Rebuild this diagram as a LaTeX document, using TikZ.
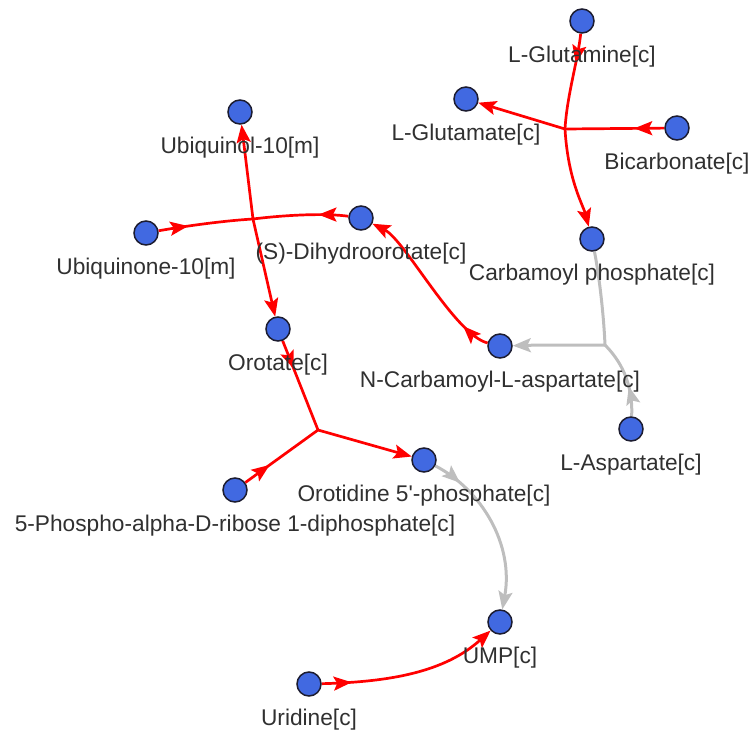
\documentclass[tikz,border=0pt]{standalone}
\usepackage{fontspec}
\setmainfont{Liberation Sans}
\usetikzlibrary{arrows.meta,decorations.markings}
\definecolor{metblue}{RGB}{65,105,225}
\definecolor{metrim}{RGB}{28,28,48}
\definecolor{fluxred}{RGB}{255,0,0}
\definecolor{idlegray}{RGB}{190,190,190}
\definecolor{txtgray}{RGB}{48,48,48}
\pgfdeclarelayer{edges}
\pgfsetlayers{edges,main}

\begin{document}
\begin{tikzpicture}[x=1pt,y=-1pt,>={Stealth[length=18pt,width=14pt,inset=3.5pt]}]
    \tikzstyle{met}=[circle,draw=metrim,fill=metblue,line width=1.5pt,minimum size=24pt,inner sep=0pt]
    \tikzstyle{lbl}=[anchor=base,inner sep=0pt,text=txtgray,font=\fontsize{22.7}{27}\selectfont]
    \tikzstyle{flux}=[draw=fluxred,line width=2.7pt]
    \tikzstyle{idle}=[draw=idlegray,line width=3pt]
    \tikzstyle{sub}=[postaction={decorate,decoration={markings,mark=at position 30pt with {\arrow{>}}}}]
    \useasboundingbox (0,0) rectangle (753,731);
    % metabolites
    \node [met] (gln) at (582,21) {};
    \node [met] (glu) at (466,99) {};
    \node [met] (hco3) at (677,128) {};
    \node [met] (cbp) at (592,239) {};
    \node [met] (q10h2) at (240,112) {};
    \node [met] (q10) at (146,233) {};
    \node [met] (dhor) at (361,218) {};
    \node [met] (orot) at (278,329) {};
    \node [met] (cbasp) at (500,346) {};
    \node [met] (asp) at (631,429) {};
    \node [met] (omp) at (424,460) {};
    \node [met] (prpp) at (235,490) {};
    \node [met] (ump) at (500,622) {};
    \node [met] (uri) at (309,684) {};
    \node [lbl] (glnL) at ([yshift=-41pt]gln.center) {L-Glutamine[c]};
    \node [lbl] (gluL) at ([yshift=-41pt]glu.center) {L-Glutamate[c]};
    \node [lbl] (hco3L) at ([yshift=-41pt]hco3.center) {Bicarbonate[c]};
    \node [lbl] (cbpL) at ([yshift=-41pt]cbp.center) {Carbamoyl phosphate[c]};
    \node [lbl] (q10h2L) at ([yshift=-41pt]q10h2.center) {Ubiquinol-10[m]};
    \node [lbl] (q10L) at ([yshift=-41pt]q10.center) {Ubiquinone-10[m]};
    \node [lbl] (dhorL) at ([yshift=-41pt]dhor.center) {(S)-Dihydroorotate[c]};
    \node [lbl] (orotL) at ([yshift=-41pt]orot.center) {Orotate[c]};
    \node [lbl] (cbaspL) at ([yshift=-41pt]cbasp.center) {N-Carbamoyl-L-aspartate[c]};
    \node [lbl] (aspL) at ([yshift=-41pt]asp.center) {L-Aspartate[c]};
    \node [lbl] (ompL) at ([yshift=-41pt]omp.center) {Orotidine 5\textquotesingle-phosphate[c]};
    \node [lbl] (prppL) at ([yshift=-41pt]prpp.center) {5-Phospho-alpha-D-ribose 1-diphosphate[c]};
    \node [lbl] (umpL) at ([yshift=-41pt]ump.center) {UMP[c]};
    \node [lbl] (uriL) at ([yshift=-41pt]uri.center) {Uridine[c]};
    % reaction midpoints
    \coordinate (cpsJ) at (565,129);
    \coordinate (dhodJ) at (253,219);
    \coordinate (atcJ) at (605,345);
    \coordinate (oprtJ) at (318,430);
    \begin{pgfonlayer}{edges}
      % carbamoyl phosphate synthase
      \draw [flux,sub] (gln) .. controls (578,60) and (567,95) .. (cpsJ);
      \draw [flux,sub] (hco3) -- (cpsJ);
      \draw [flux,->] (cpsJ) -- (glu);
      \draw [flux,->] (cpsJ) .. controls (568,180) and (583,205) .. (cbp);
      % dihydroorotate dehydrogenase
      \draw [flux,sub] (q10) .. controls (180,227) and (220,221) .. (dhodJ);
      \draw [flux,sub] (dhor) .. controls (325,213) and (285,215) .. (dhodJ);
      \draw [flux,->] (dhodJ) -- (q10h2);
      \draw [flux,->] (dhodJ) -- (orot);
      % aspartate transcarbamoylase
      \draw [idle] (cbp) .. controls (600,280) and (604,320) .. (atcJ);
      \draw [idle,sub] (asp) .. controls (633,390) and (625,365) .. (atcJ);
      \draw [idle,->] (atcJ) .. controls (570,345) and (540,345) .. (cbasp);
      % dihydroorotase
      \draw [flux,sub,->] (cbasp) .. controls (455,335) and (405,240) .. (dhor);
      % orotate phosphoribosyltransferase
      \draw [flux,sub] (orot) -- (oprtJ);
      \draw [flux,sub] (prpp) -- (oprtJ);
      \draw [flux,->] (oprtJ) -- (omp);
      % OMP decarboxylase
      \draw [idle,sub,->] (omp) .. controls (482,490) and (514,545) .. (ump);
      % uridine kinase
      \draw [flux,sub,->] (uri) .. controls (390,682) and (445,672) .. (ump);
    \end{pgfonlayer}
  \end{tikzpicture}
\end{document}
